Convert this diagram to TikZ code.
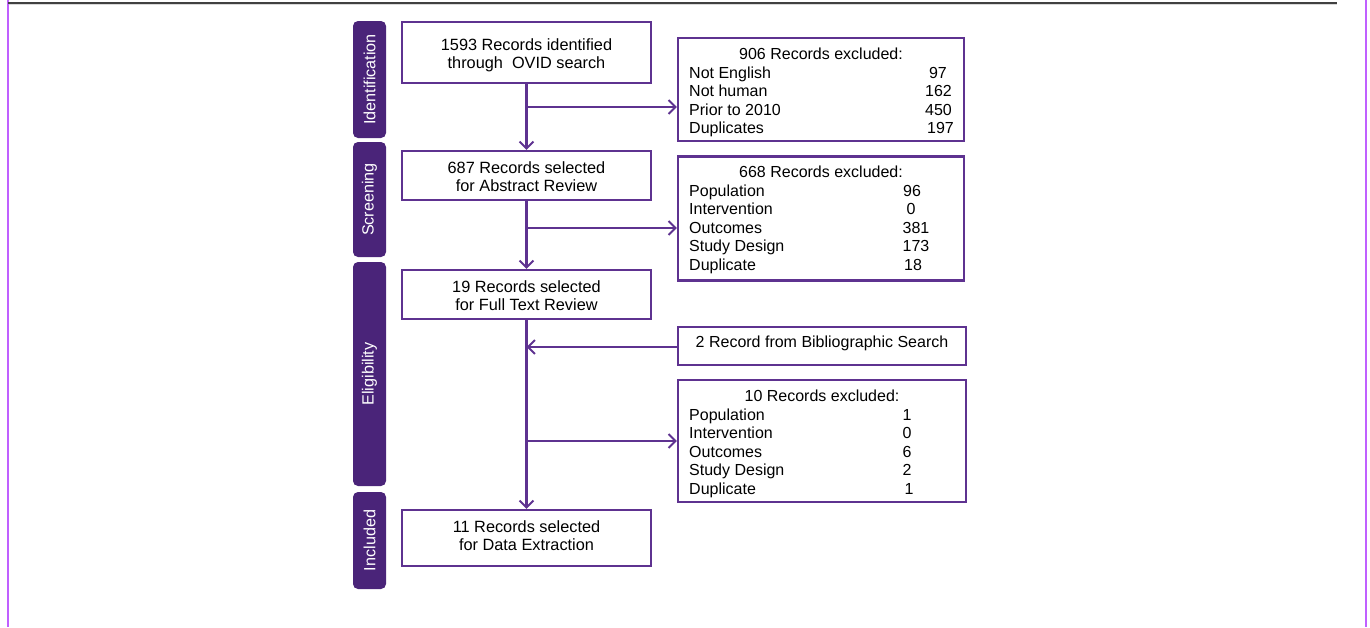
\documentclass[tikz,border=0pt]{standalone}
\usepackage{fontspec}
\setmainfont{Liberation Sans}
\usetikzlibrary{arrows.meta}
\definecolor{tabpurple}{HTML}{4A2479}
\definecolor{linepurple}{HTML}{5E3290}
\definecolor{framev}{HTML}{C060FF}
\definecolor{framegray}{HTML}{404040}
\tikzset{
  mainbox/.style={draw=linepurple, line width=2.1pt, minimum width=249pt, inner sep=0pt},
  maintext/.style={align=center, inner sep=0pt, font=\fontsize{16.3}{18.3}\selectfont},
  sidebox/.style={draw=linepurple, line width=2.1pt, inner sep=0pt},
  tab/.style={fill=tabpurple, rounded corners=5pt, minimum width=33pt, inner sep=0pt},
  tabtext/.style={text=white, rotate=90, font=\fontsize{16.2}{18}\selectfont},
  txt/.style={font=\fontsize{16}{18}\selectfont, inner sep=0pt, text height=11.5pt, text depth=3.4pt},
  conn/.style={draw=linepurple, line width=2.1pt},
  arr/.style={conn, -{Straight Barb[length=7pt,width=14pt,line width=2pt]}},
}
\begin{document}
\begin{tikzpicture}[x=1pt,y=-1pt]
\useasboundingbox (0,0) rectangle (1370,627);
% frame
\draw[framev, line width=1.5pt] (8,0) -- (8,627);
\draw[framev, line width=1.5pt] (1366,0) -- (1366,627);
\draw[framegray, line width=1.2pt] (8,3) -- (1337,3);
\draw[gray!30, line width=0.8pt] (9,4.5) -- (1337,4.5);

% phase tabs
\node[tab, minimum height=117pt] (tid) at (369.5,79.5) {};
\node[tabtext] (tidt) at (tid) {Identification};
\node[tab, minimum height=115pt] (tsc) at (369.5,199.5) {};
\node[tabtext] (tsct) at (tsc) {Screening};
\node[tab, minimum height=224pt] (tel) at (369.5,374) {};
\node[tabtext] (telt) at (tel) {Eligibility};
\node[tab, minimum height=97pt] (tin) at (369.5,540.5) {};
\node[tabtext] (tint) at (tin) {Included};

% main boxes
\node[mainbox, minimum height=61pt] (b1) at (526.5,52.5) {};
\node[maintext] (b1t) at (526.5,55.5) {1593 Records identified\\through\ \ OVID search};
\node[mainbox, minimum height=49pt] (b2) at (526.5,175.5) {};
\node[maintext] (b2t) at (526.5,176.5) {687 Records selected\\for Abstract Review};
\node[mainbox, minimum height=49pt] (b3) at (526.5,294.5) {};
\node[maintext] (b3t) at (526.5,295.5) {19 Records selected\\for Full Text Review};
\node[mainbox, minimum height=56pt] (b4) at (526.5,538) {};
\node[maintext] (b4t) at (526.5,535.5) {11 Records selected\\for Data Extraction};

% side boxes
\node[sidebox, minimum width=286pt, minimum height=103pt] (r1) at (821,89.5) {};
\node[txt] (r1t) at (821,55) {906 Records excluded:};
\node[txt, anchor=west] (r1a) at (689,74) {Not English};
\node[txt, anchor=west] (r1b) at (689,92.5) {Not human};
\node[txt, anchor=west] (r1c) at (689,111) {Prior to 2010};
\node[txt, anchor=west] (r1d) at (689,129.5) {Duplicates};
\node[txt, anchor=east] (r1an) at (947,74) {97};
\node[txt, anchor=east] (r1bn) at (952,92.5) {162};
\node[txt, anchor=east] (r1cn) at (952,111) {450};
\node[txt, anchor=east] (r1dn) at (954,129.5) {197};

\node[sidebox, minimum width=286pt, minimum height=124pt] (r2) at (821,218.5) {};
\node[txt] (r2t) at (821,173.5) {668 Records excluded:};
\node[txt, anchor=west] (r2a) at (689,192) {Population};
\node[txt, anchor=west] (r2b) at (689,210.5) {Intervention};
\node[txt, anchor=west] (r2c) at (689,229) {Outcomes};
\node[txt, anchor=west] (r2d) at (689,247.5) {Study Design};
\node[txt, anchor=west] (r2e) at (689,266.5) {Duplicate};
\node[txt] (r2an) at (912,192) {96};
\node[txt] (r2bn) at (911,210.5) {0};
\node[txt] (r2cn) at (916,229) {381};
\node[txt] (r2dn) at (916,247.5) {173};
\node[txt] (r2en) at (913,266.5) {18};

\node[sidebox, minimum width=288pt, minimum height=38pt] (r3) at (822,346) {};
\node[txt] (r3t) at (822,343.5) {2 Record from Bibliographic Search};

\node[sidebox, minimum width=288pt, minimum height=122pt] (r4) at (822,441) {};
\node[txt] (r4t) at (822,397.5) {10 Records excluded:};
\node[txt, anchor=west] (r4a) at (689,416) {Population};
\node[txt, anchor=west] (r4b) at (689,434.5) {Intervention};
\node[txt, anchor=west] (r4c) at (689,453) {Outcomes};
\node[txt, anchor=west] (r4d) at (689,471.5) {Study Design};
\node[txt, anchor=west] (r4e) at (689,490.5) {Duplicate};
\node[txt] (r4an) at (907,416) {1};
\node[txt] (r4bn) at (907,434.5) {0};
\node[txt] (r4cn) at (907,453) {6};
\node[txt] (r4dn) at (907,471.5) {2};
\node[txt] (r4en) at (909,490.5) {1};

% connectors
\coordinate (j1) at (b1.south |- 0,107);
\coordinate (j2) at (b2.south |- 0,228);
\coordinate (j3) at (b3.south |- 0,347);
\coordinate (j4) at (b3.south |- 0,441);
\draw[arr] (b1.south) -- (b2.north);
\draw[arr] (j1) -- (j1 -| r1.west);
\draw[arr] (b2.south) -- (b3.north);
\draw[arr] (j2) -- (j2 -| r2.west);
\draw[arr] (b3.south) -- (b4.north);
\draw[arr] (j3 -| r3.west) -- (j3);
\draw[arr] (j4) -- (j4 -| r4.west);
\end{tikzpicture}
\end{document}
